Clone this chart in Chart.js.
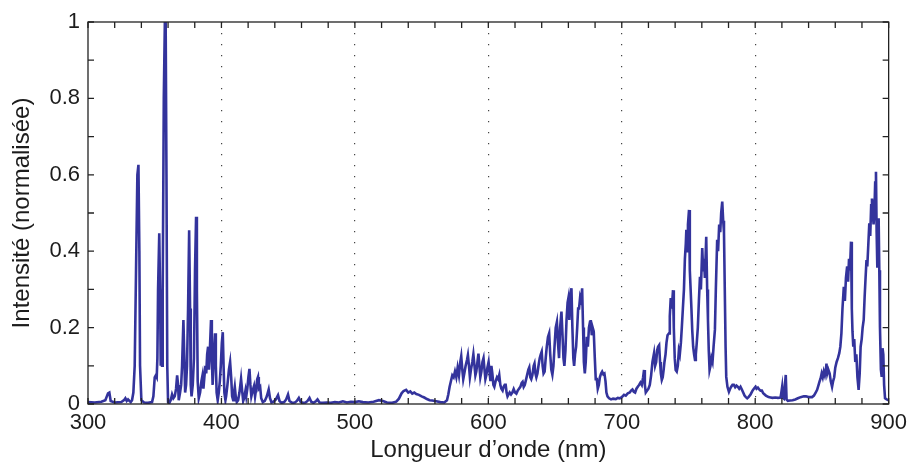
<!DOCTYPE html>
<html>
<head>
<meta charset="utf-8">
<script src="https://cdn.jsdelivr.net/npm/chart.js@4"></script>
<style>
  html, body { margin: 0; padding: 0; background: #fff; }
  #wrap { width: 913px; height: 466px; }
</style>
</head>
<body>
<div id="wrap"><canvas id="spectre" width="913" height="466"></canvas></div>
<script>
// Spectre d'émission normalisé
const X_TITLE = 'Longueur d’onde (nm)';
const Y_TITLE = 'Intensité (normalisée)';
const X_TICKS = [300, 400, 500, 600, 700, 800, 900];
const Y_TICKS = [0, 0.2, 0.4, 0.6, 0.8, 1];
const GRID_LINES = [400, 500, 600, 700, 800];

const wavelengths = [
    // 300 - 400
    300, 305, 310, 313, 315, 316, 317, 320, 325, 327, 328, 329, 330, 331, 332, 333, 334, 335, 336, 337, 337.8, 338.5, 339, 340,
    342, 345, 348, 349, 350, 350.8, 351.5, 352, 352.5, 353.4, 354, 354.5, 355, 355.5, 356, 356.8, 357.6, 358.2, 358.8, 359.4, 360,
    361, 362, 363, 364, 365, 366, 366.8, 367.5, 368, 369, 369.8, 370.5, 371.5, 372.2, 372.8, 373.5, 374.2, 375, 375.8, 376.5, 377,
    377.6, 378.5, 379.4, 380.2, 381, 381.6, 382.2, 383, 384, 385, 385.8, 386.5, 387.2, 388, 388.6, 389.3, 390, 390.6, 391.3, 392.2,
    392.8, 393.4, 394, 394.6, 395.2, 395.8, 396.4, 397.2, 398, 398.8, 399.5, 400.3, 401, 401.6, 402.2, 403,
    // 400 - 500
    403.5, 404.5, 405.6, 406.5, 407.3, 408, 408.8, 409.4, 410, 410.7, 411.5, 412.5, 413.5, 414.7, 415.5, 416.3, 417, 418, 418.6,
    419.4, 420.2, 421, 421.7, 422.4, 423.4, 424.4, 425.2, 426, 426.8, 427.4, 428, 429, 429.8, 431, 432.5, 434, 435.4, 436.4, 437.5,
    439, 440.8, 442.4, 443.5, 445, 447, 448.5, 449.9, 451, 453, 455, 456.5, 458, 459.3, 461, 463, 464.5, 466, 467.3, 469, 471, 472,
    473.5, 476, 479, 482, 485, 488, 491, 494, 497, 500,
    // 500 - 600
    503, 506, 510, 514, 518, 521, 524, 528, 531, 533, 535, 536.5, 538.4, 540, 541.5, 543, 544.5, 546, 548, 550, 552, 554, 556, 558,
    561, 564, 567, 569, 570, 571, 572, 573, 574, 575, 576, 577, 578, 579, 579.7, 580.5, 581.2, 582, 583, 584, 584.7, 585.5, 586.2,
    587, 588, 588.8, 589.5, 590.3, 591, 592, 592.6, 593.3, 594, 594.8, 595.6, 596.4, 597, 597.8, 598.5, 599.3, 600.2,
    // 600 - 700
    601, 601.6, 602.3, 603, 603.8, 604.5, 605.5, 606.5, 607.4, 608.2, 609, 609.8, 610.7, 611.5, 612.3, 613, 613.7, 614.4, 615.2,
    616, 617, 618, 619, 620, 621, 622, 623, 624, 625, 625.7, 626.5, 627.3, 628, 629, 630, 630.7, 631.5, 632.2, 633, 634, 634.6,
    635.3, 636, 636.8, 637.6, 638.5, 639.3, 640, 640.7, 641.4, 642.2, 643, 643.8, 644.7, 645.6, 646.4, 647.2, 648, 648.8, 649.6,
    650.5, 651.4, 652.2, 653, 653.8, 654.8, 655.6, 656.3, 657, 657.8, 658.6, 659.4, 660, 660.7, 661.4, 662.3, 663, 663.7, 664.3,
    665, 665.8, 666.6, 667.3, 668, 668.8, 669.6, 670.3, 671, 671.6, 672.3, 673, 673.8, 674.6, 675.4, 676.2, 676.8, 677.5, 678.2,
    679, 679.8, 680.5, 681.3, 682, 682.8, 683.6, 684.5, 685.3, 686.2, 687, 687.8, 688.5, 689.3, 690.5, 692, 693.5, 695.5, 697,
    698.5, 700,
    // 700 - 800
    701.7, 703, 704.5, 706, 707, 708, 709, 710, 711, 712, 713, 714, 715, 716, 716.7, 717.3, 718, 719, 720, 721, 722, 723, 724.2,
    725, 725.8, 726.5, 727.2, 728, 728.7, 729.3, 730, 730.7, 731.4, 732, 732.8, 733.5, 734.3, 735.4, 736, 736.7, 737.5, 738.4,
    739, 739.7, 740.4, 741.2, 742, 742.8, 743.5, 744.3, 745, 745.8, 746.6, 747.3, 748, 748.4, 749, 749.6, 750.4, 751, 751.6,
    752.2, 752.8, 753.5, 754.2, 754.9, 755.5, 756.2, 757, 757.8, 758.6, 759.3, 760.3, 761, 761.6, 762.3, 763.3, 764, 764.6,
    765.2, 765.8, 766.5, 767.2, 768, 768.8, 769.8, 770.5, 771.5, 772.2, 773, 773.8, 774.5, 775.3, 776, 776.6, 777.2, 777.8,
    778.3, 779.2, 780.3, 781.2, 782, 783, 784, 785, 786, 787, 788, 789, 790, 791, 792, 793, 794, 795, 796.5, 798, 799, 800.2,
    // 800 - 900
    801, 802, 803, 804, 805, 806, 808, 810, 811.5, 813, 815, 817, 819, 819.6, 820.2, 820.8, 821.5, 822.3, 822.9, 823.5, 824.5,
    826, 828, 830, 832, 834, 836.4, 838, 840, 842.6, 844, 845.3, 846.4, 847.5, 848.3, 849, 849.8, 850.6, 851.4, 852.2, 853,
    853.4, 854, 854.8, 855.8, 856.6, 857.6, 858.4, 859.2, 860, 861, 862, 863, 863.8, 864.6, 865.4, 866.4, 867.2, 868, 868.9,
    869.6, 870.3, 871, 871.8, 872.4, 872.9, 873.5, 874.2, 875, 875.8, 876.6, 877.5, 878.3, 879, 879.8, 880.5, 881.3, 882,
    882.7, 883.4, 884, 884.8, 885.5, 886.2, 886.9, 887.5, 888.1, 888.7, 889.3, 889.9, 890.5, 891, 891.5, 892, 892.5, 893,
    893.5, 894.2, 894.8, 895.4, 896, 896.6, 897.3, 898.5, 900
];

const intensities = [
    // 300 - 400
    0.005, 0.004, 0.006, 0.01, 0.028, 0.03, 0.008, 0.004, 0.005, 0.01, 0.015, 0.008, 0.012, 0.008, 0.005, 0.01, 0.03, 0.1, 0.35, 0.6, 0.626, 0.4, 0.1, 0.01,
    0.004, 0.003, 0.005, 0.02, 0.07, 0.075, 0.07, 0.12, 0.3, 0.447, 0.3, 0.1, 0.15, 0.1, 0.3, 0.8, 1.0, 1.0, 0.6, 0.1, 0.005,
    0.003, 0.01, 0.025, 0.015, 0.02, 0.04, 0.075, 0.05, 0.01, 0.03, 0.05, 0.1, 0.22, 0.12, 0.03, 0.05, 0.1, 0.25, 0.455, 0.25, 0.05,
    0.02, 0.05, 0.12, 0.35, 0.49, 0.3, 0.06, 0.015, 0.03, 0.06, 0.075, 0.04, 0.07, 0.1, 0.08, 0.13, 0.15, 0.09, 0.14, 0.22,
    0.12, 0.05, 0.1, 0.15, 0.185, 0.1, 0.03, 0.01, 0.03, 0.06, 0.1, 0.16, 0.188, 0.1, 0.03, 0.01,
    // 400 - 500
    0.02, 0.05, 0.09, 0.11, 0.07, 0.02, 0.01, 0.03, 0.045, 0.02, 0.005, 0.01, 0.03, 0.066, 0.035, 0.008, 0.015, 0.035, 0.02,
    0.04, 0.07, 0.092, 0.05, 0.02, 0.035, 0.047, 0.02, 0.04, 0.065, 0.071, 0.04, 0.045, 0.015, 0.005, 0.008, 0.02, 0.038, 0.015, 0.004,
    0.006, 0.012, 0.023, 0.008, 0.003, 0.005, 0.012, 0.025, 0.008, 0.003, 0.004, 0.008, 0.016, 0.006, 0.003, 0.004, 0.008, 0.016, 0.006, 0.003, 0.008, 0.012,
    0.004, 0.003, 0.004, 0.003, 0.005, 0.004, 0.007, 0.004, 0.006, 0.005,
    // 500 - 600
    0.007, 0.005, 0.004, 0.006, 0.01, 0.008, 0.004, 0.003, 0.006, 0.014, 0.028, 0.034, 0.037, 0.03, 0.033, 0.027, 0.03, 0.026, 0.024, 0.02, 0.017, 0.013, 0.01, 0.009,
    0.007, 0.005, 0.004, 0.01, 0.025, 0.045, 0.06, 0.075, 0.07, 0.085, 0.07, 0.095, 0.075, 0.11, 0.125, 0.09, 0.065, 0.08, 0.1, 0.115, 0.128, 0.1, 0.07,
    0.09, 0.11, 0.13, 0.105, 0.075, 0.085, 0.115, 0.132, 0.1, 0.07, 0.085, 0.11, 0.12, 0.095, 0.065, 0.075, 0.095, 0.11,
    // 600 - 700
    0.08, 0.06, 0.1, 0.08, 0.05, 0.045, 0.06, 0.07, 0.065, 0.076, 0.05, 0.04, 0.035, 0.045, 0.05, 0.05, 0.03, 0.02, 0.025,
    0.03, 0.025, 0.03, 0.039, 0.03, 0.027, 0.035, 0.04, 0.045, 0.055, 0.058, 0.045, 0.05, 0.06, 0.075, 0.09, 0.096, 0.07, 0.065, 0.075, 0.1, 0.106,
    0.08, 0.07, 0.08, 0.1, 0.12, 0.13, 0.137, 0.1, 0.08, 0.085, 0.12, 0.15, 0.175, 0.185, 0.13, 0.09, 0.077, 0.1, 0.15,
    0.2, 0.215, 0.16, 0.12, 0.2, 0.242, 0.18, 0.12, 0.1, 0.14, 0.22, 0.265, 0.277, 0.22, 0.28, 0.303, 0.2, 0.12, 0.1,
    0.13, 0.15, 0.2, 0.25, 0.25, 0.28, 0.27, 0.303, 0.2, 0.11, 0.08, 0.11, 0.176, 0.15, 0.2, 0.215, 0.22, 0.18, 0.2,
    0.19, 0.12, 0.065, 0.065, 0.04, 0.05, 0.07, 0.08, 0.085, 0.078, 0.08, 0.06, 0.03, 0.02, 0.015, 0.012, 0.014, 0.013, 0.016,
    0.015, 0.018,
    // 700 - 800
    0.024, 0.022, 0.028, 0.03, 0.035, 0.038, 0.032, 0.03, 0.04, 0.045, 0.05, 0.056, 0.05, 0.07, 0.089, 0.05, 0.03, 0.035, 0.04, 0.05, 0.075, 0.11, 0.133,
    0.1, 0.11, 0.14, 0.15, 0.154, 0.11, 0.08, 0.063, 0.07, 0.09, 0.11, 0.13, 0.16, 0.18, 0.185, 0.23, 0.277, 0.25, 0.298,
    0.2, 0.12, 0.089, 0.085, 0.1, 0.14, 0.13, 0.16, 0.2, 0.25, 0.3, 0.38, 0.42, 0.456, 0.4, 0.47, 0.508, 0.35, 0.3,
    0.25, 0.194, 0.15, 0.13, 0.115, 0.13, 0.16, 0.2, 0.27, 0.333, 0.3, 0.408, 0.35, 0.38, 0.33, 0.438, 0.3, 0.22,
    0.14, 0.089, 0.1, 0.12, 0.11, 0.15, 0.194, 0.3, 0.43, 0.4, 0.47, 0.45, 0.5, 0.53, 0.48, 0.45, 0.3, 0.15,
    0.071, 0.045, 0.032, 0.04, 0.045, 0.05, 0.05, 0.044, 0.048, 0.045, 0.04, 0.045, 0.038, 0.03, 0.022, 0.018, 0.015, 0.018, 0.025, 0.035, 0.04, 0.045,
    // 800 - 900
    0.04, 0.043, 0.038, 0.035, 0.035, 0.028, 0.022, 0.018, 0.017, 0.016, 0.017, 0.016, 0.017, 0.03, 0.045, 0.016, 0.014, 0.05, 0.076, 0.012, 0.008,
    0.009, 0.01, 0.012, 0.015, 0.018, 0.02, 0.02, 0.018, 0.018, 0.022, 0.03, 0.037, 0.05, 0.06, 0.067, 0.08, 0.07, 0.085, 0.075, 0.09,
    0.106, 0.08, 0.09, 0.08, 0.06, 0.045, 0.06, 0.07, 0.095, 0.11, 0.12, 0.133, 0.15, 0.185, 0.25, 0.307, 0.27, 0.33, 0.36,
    0.32, 0.38, 0.35, 0.425, 0.25, 0.19, 0.15, 0.17, 0.11, 0.13, 0.07, 0.037, 0.08, 0.15, 0.17, 0.2, 0.22, 0.28,
    0.33, 0.377, 0.36, 0.42, 0.473, 0.44, 0.52, 0.538, 0.5, 0.47, 0.5, 0.58, 0.608, 0.45, 0.36, 0.42, 0.486, 0.35,
    0.2, 0.09, 0.071, 0.146, 0.13, 0.05, 0.015, 0.012, 0.01
];

const LINE_COLOR = '#33339c';
const TEXT_COLOR = '#1c1c1c';
const FONT = '"Liberation Sans", Arial, Helvetica, sans-serif';
const TICK_LEN = 6;

// cadre + graduations vers l'intérieur (style MATLAB)
const cadrePlugin = {
    id: 'cadre',
    afterDatasetsDraw(chart) {
        const { ctx, chartArea: a, scales: { x, y } } = chart;
        ctx.save();
        ctx.strokeStyle = '#222';
        ctx.lineWidth = 1.3;
        ctx.strokeRect(a.left, a.top, a.right - a.left, a.bottom - a.top);
        ctx.beginPath();
        x.ticks.forEach(t => {
            const px = x.getPixelForValue(t.value);
            ctx.moveTo(px, a.bottom);
            ctx.lineTo(px, a.bottom - TICK_LEN);
            ctx.moveTo(px, a.top);
            ctx.lineTo(px, a.top + TICK_LEN);
        });
        y.ticks.forEach(t => {
            const py = y.getPixelForValue(t.value);
            ctx.moveTo(a.left, py);
            ctx.lineTo(a.left + TICK_LEN, py);
            ctx.moveTo(a.right, py);
            ctx.lineTo(a.right - TICK_LEN, py);
        });
        ctx.stroke();
        ctx.restore();
    }
};

const points = wavelengths.map((w, i) => ({ x: w, y: intensities[i] }));

new Chart(document.getElementById('spectre'), {
    type: 'line',
    data: {
        datasets: [{
            data: points,
            borderColor: LINE_COLOR,
            borderWidth: 2.6,
            pointRadius: 0,
            tension: 0,
            fill: false
        }]
    },
    options: {
        responsive: false,
        animation: false,
        events: [],
        layout: { padding: { top: 22, right: 23, left: 0, bottom: 0 } },
        plugins: {
            legend: { display: false },
            tooltip: { enabled: false }
        },
        scales: {
            x: {
                type: 'linear',
                min: 300,
                max: 900,
                afterFit: (scale) => { scale.height = 62; },
                ticks: {
                    stepSize: 20,
                    autoSkip: false,
                    maxRotation: 0,
                    padding: 6,
                    color: TEXT_COLOR,
                    font: { family: FONT, size: 22 },
                    callback: (v) => X_TICKS.includes(v) ? String(v) : ''
                },
                grid: {
                    drawTicks: false,
                    lineWidth: 1.2,
                    color: (c) => (c.tick && GRID_LINES.includes(c.tick.value)) ? '#444' : 'transparent'
                },
                border: { display: false, dash: [1.3, 9.7] },
                title: {
                    display: true,
                    text: X_TITLE,
                    color: TEXT_COLOR,
                    font: { family: FONT, size: 24 },
                    padding: { top: 0, bottom: 1 }
                }
            },
            y: {
                min: 0,
                max: 1,
                afterFit: (scale) => { scale.width = 88; },
                ticks: {
                    stepSize: 0.1,
                    autoSkip: false,
                    padding: 8,
                    color: TEXT_COLOR,
                    font: { family: FONT, size: 22 },
                    callback: (v) => {
                        const r = Math.round(v * 10) / 10;
                        return Y_TICKS.includes(r) ? String(r) : '';
                    }
                },
                grid: { display: false, drawTicks: false },
                border: { display: false },
                title: {
                    display: true,
                    text: Y_TITLE,
                    color: TEXT_COLOR,
                    font: { family: FONT, size: 24 },
                    padding: { top: 8, bottom: 0 }
                }
            }
        }
    },
    plugins: [cadrePlugin]
});
</script>
</body>
</html>
